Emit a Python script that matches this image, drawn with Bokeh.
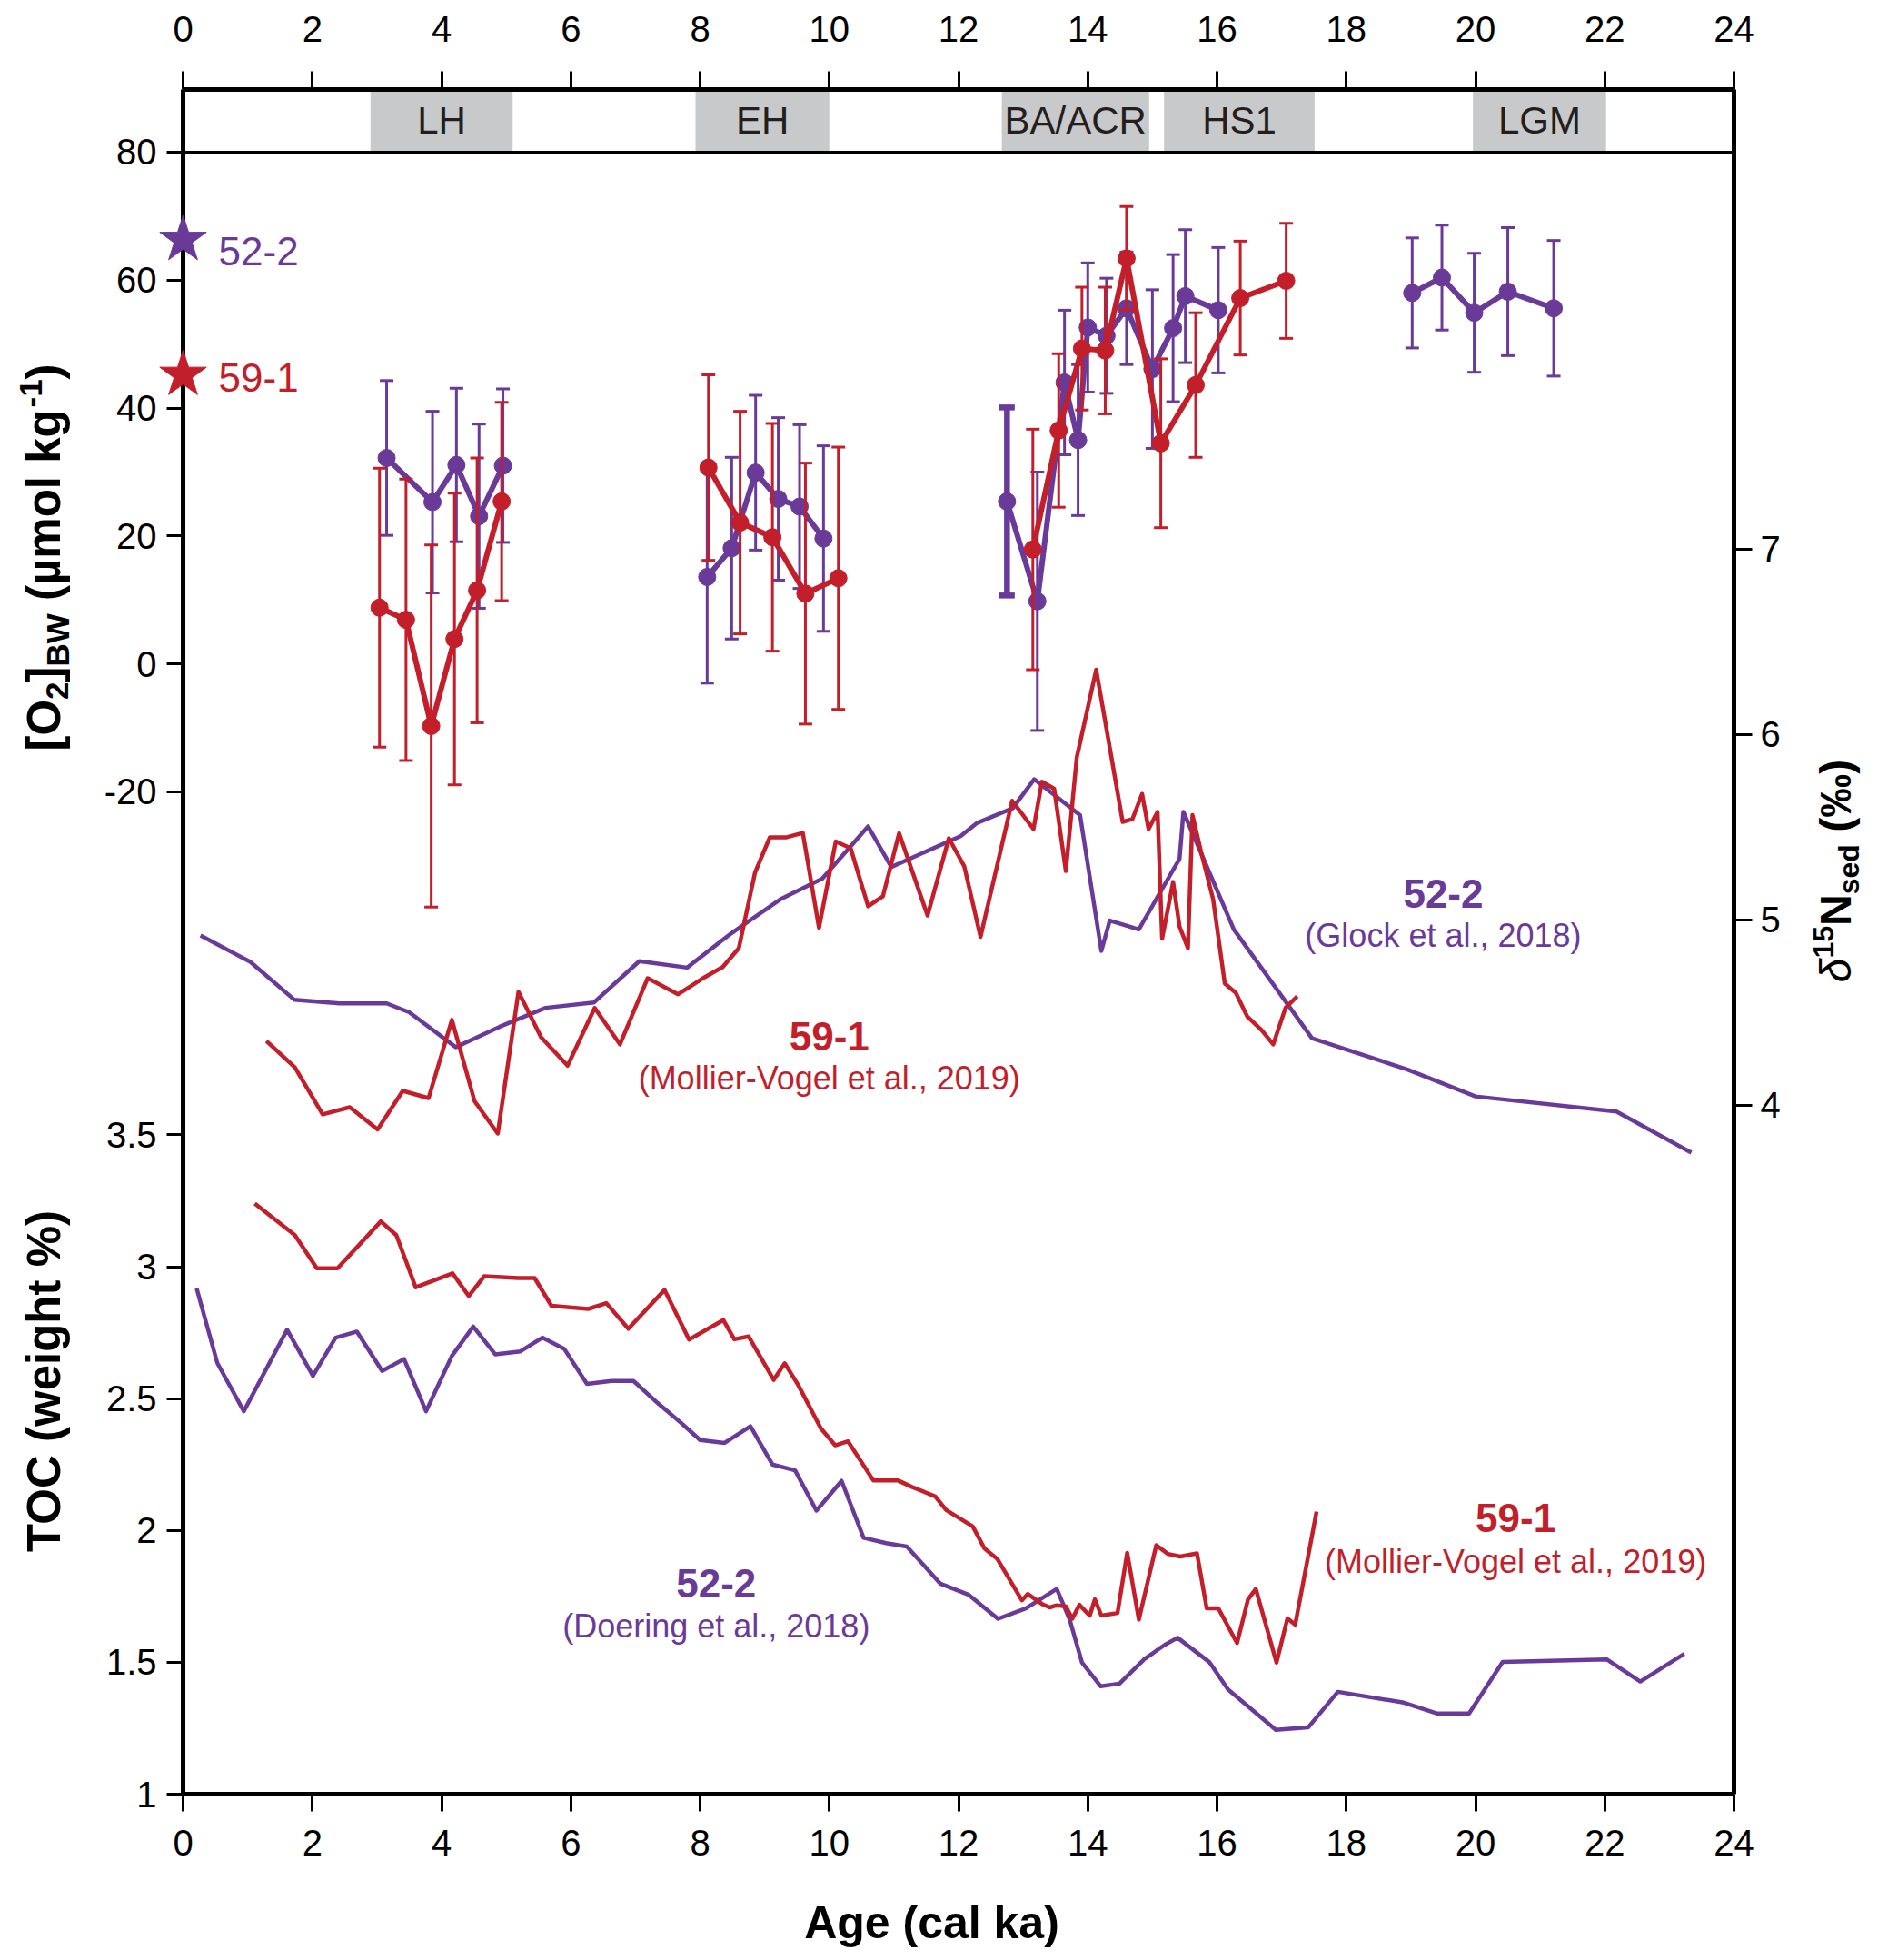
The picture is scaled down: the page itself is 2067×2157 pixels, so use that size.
import numpy as np
from bokeh.plotting import figure
from bokeh.models import Range1d, LinearAxis, FixedTicker, Span, Label, ColumnDataSource
from bokeh.core.properties import value
from bokeh.embed import file_html
from bokeh.resources import INLINE

# ---------------- values ----------------
age_ticks = list(range(0, 25, 2))
o2_ticks = [-20, 0, 20, 40, 60, 80]
toc_ticks = [1, 1.5, 2, 2.5, 3, 3.5]
d15n_ticks = [4, 5, 6, 7]

bands = ["LH", "EH", "BA/ACR", "HS1", "LGM"]
band_start = [2.90, 7.93, 12.67, 15.18, 19.96]
band_end = [5.10, 10.00, 14.95, 17.51, 22.02]

# modern bottom-water O2 (stars at 0 ka)
star_sites = ["52-2", "59-1"]
star_o2 = [66.3, 45.2]

# [O2]BW reconstructions, core 52-2
o2_522_age = [3.15, 3.86, 4.23, 4.58, 4.95, 8.11, 8.49, 8.86, 9.21, 9.54, 9.91,
              12.75, 13.22, 13.64, 13.85, 14.00, 14.29, 14.60, 15.00, 15.32, 15.51, 16.02,
              19.02, 19.48, 19.98, 20.50, 21.21]
o2_522_val = [32.2, 25.3, 31.1, 23.1, 31.0, 13.6, 18.1, 29.9, 25.8, 24.6, 19.6,
              25.4, 9.8, 44.0, 35.0, 52.6, 51.3, 55.6, 46.1, 52.5, 57.5, 55.3,
              58.0, 60.4, 54.9, 58.2, 55.6]
o2_522_err = [12.1, 14.2, 12.0, 14.4, 12.0, 16.6, 14.2, 12.1, 12.7, 12.8, 14.5,
              14.7, 20.2, 11.3, 11.8, 10.1, 9.0, 8.8, 12.4, 11.5, 10.4, 9.8,
              8.6, 8.2, 9.3, 10.0, 10.6]

# [O2]BW reconstructions, core 59-1
o2_591_age = [3.04, 3.45, 3.84, 4.20, 4.55, 4.93, 8.13, 8.62, 9.12, 9.63, 10.14,
              13.15, 13.55, 13.91, 14.27, 14.60, 15.13, 15.67, 16.36, 17.07]
o2_591_val = [8.8, 6.9, -9.7, 3.9, 11.5, 25.4, 30.7, 22.1, 19.8, 11.0, 13.4,
              17.9, 36.5, 49.3, 49.0, 63.4, 34.5, 43.6, 57.2, 59.9]
o2_591_err = [21.8, 22.0, 28.3, 22.8, 20.7, 15.5, 14.5, 17.4, 17.8, 20.4, 20.5,
              18.8, 12.0, 9.6, 9.9, 8.1, 13.2, 11.3, 8.9, 9.0]

# d15N sed, 52-2 (Glock et al., 2018)
d15n_522_age = [0.27, 1.04, 1.72, 2.42, 3.15, 3.50, 4.22, 4.90, 5.61, 6.36, 7.06, 7.80,
                8.48, 9.24, 9.89, 10.60, 10.96, 12.03, 12.28, 12.84, 13.17, 13.88, 14.21,
                14.34, 14.79, 15.42, 15.48, 16.26, 17.47, 18.95, 20.00, 22.18, 23.34]
d15n_522_val = [4.916, 4.774, 4.570, 4.550, 4.550, 4.502, 4.314, 4.424, 4.526, 4.555, 4.778,
                4.743, 4.927, 5.111, 5.223, 5.505, 5.286, 5.452, 5.522, 5.603, 5.759, 5.566,
                4.833, 4.997, 4.949, 5.330, 5.583, 4.949, 4.362, 4.193, 4.048, 3.967, 3.745]

# d15N sed, 59-1 (Mollier-Vogel et al., 2019)
d15n_591_age = [1.29, 1.73, 2.16, 2.58, 3.01, 3.40, 3.80, 4.16, 4.51, 4.87, 5.19, 5.54,
                5.95, 6.37, 6.76, 7.19, 7.66, 8.07, 8.35, 8.60, 8.85, 9.08, 9.34, 9.59,
                9.84, 10.10, 10.33, 10.60, 10.83, 11.08, 11.52, 11.85, 12.09, 12.34, 12.83,
                13.16, 13.29, 13.48, 13.66, 13.83, 14.13, 14.54, 14.69, 14.84, 14.94, 15.08,
                15.15, 15.32, 15.42, 15.55, 15.62, 15.76, 15.94, 16.12, 16.29, 16.47, 16.69,
                16.87, 17.06, 17.24]
d15n_591_val = [4.347, 4.205, 3.951, 3.990, 3.870, 4.078, 4.039, 4.461, 4.023, 3.848, 4.612,
                4.367, 4.214, 4.525, 4.329, 4.686, 4.599, 4.691, 4.746, 4.848, 5.255, 5.446,
                5.446, 5.470, 4.958, 5.424, 5.387, 5.074, 5.128, 5.468, 5.024, 5.441, 5.288,
                4.909, 5.643, 5.490, 5.746, 5.708, 5.264, 5.877, 6.350, 5.529, 5.544, 5.680,
                5.490, 5.583, 4.899, 5.205, 4.964, 4.848, 5.566, 5.358, 5.111, 4.658, 4.607,
                4.478, 4.406, 4.329, 4.526, 4.588]

# TOC, 52-2 (Doering et al., 2018)
toc_522_age = [0.21, 0.53, 0.94, 1.61, 2.01, 2.36, 2.69, 3.08, 3.42, 3.76, 4.16, 4.49,
               4.83, 5.22, 5.56, 5.90, 6.25, 6.63, 6.97, 7.34, 7.71, 8.00, 8.38, 8.78,
               9.12, 9.47, 9.80, 10.19, 10.53, 10.88, 11.20, 11.72, 12.15, 12.61, 13.04,
               13.52, 13.72, 13.91, 14.20, 14.49, 14.88, 15.19, 15.39, 15.88, 16.17, 16.91,
               17.41, 17.87, 18.89, 19.40, 19.90, 20.42, 22.03, 22.55, 23.23]
toc_522_val = [2.918, 2.635, 2.452, 2.761, 2.586, 2.731, 2.754, 2.605, 2.650, 2.452, 2.662,
               2.773, 2.668, 2.679, 2.731, 2.688, 2.556, 2.567, 2.567, 2.484, 2.407, 2.343,
               2.332, 2.395, 2.250, 2.228, 2.075, 2.188, 1.972, 1.952, 1.939, 1.798, 1.757,
               1.665, 1.704, 1.778, 1.662, 1.499, 1.409, 1.419, 1.513, 1.566, 1.593, 1.501,
               1.397, 1.244, 1.253, 1.388, 1.347, 1.306, 1.306, 1.501, 1.511, 1.427, 1.532]

# TOC, 59-1 (Mollier-Vogel et al., 2019)
toc_591_age = [1.11, 1.73, 2.07, 2.39, 3.06, 3.30, 3.60, 4.17, 4.42, 4.66, 5.19, 5.44,
               5.70, 6.27, 6.55, 6.89, 7.45, 7.83, 8.36, 8.53, 8.75, 9.14, 9.31, 9.52,
               9.87, 10.09, 10.29, 10.68, 11.06, 11.27, 11.64, 11.81, 12.22, 12.40, 12.60,
               12.98, 13.07, 13.30, 13.41, 13.52, 13.66, 13.76, 13.87, 14.03, 14.11, 14.21,
               14.46, 14.61, 14.79, 15.06, 15.24, 15.43, 15.69, 15.84, 16.02, 16.31, 16.48,
               16.60, 16.92, 17.09, 17.21, 17.54]
toc_591_val = [3.240, 3.120, 2.994, 2.994, 3.172, 3.120, 2.922, 2.975, 2.889, 2.964, 2.957,
               2.957, 2.852, 2.840, 2.862, 2.765, 2.912, 2.724, 2.798, 2.725, 2.736, 2.571,
               2.634, 2.551, 2.387, 2.323, 2.338, 2.190, 2.190, 2.166, 2.129, 2.077, 2.015,
               1.932, 1.892, 1.735, 1.759, 1.720, 1.708, 1.716, 1.712, 1.665, 1.718, 1.677,
               1.739, 1.677, 1.687, 1.915, 1.662, 1.944, 1.911, 1.901, 1.913, 1.705, 1.705,
               1.573, 1.739, 1.778, 1.499, 1.667, 1.643, 2.071]

# ---------------- styling / layout ----------------
PURPLE = "#6a3a99"
RED = "#c21f2b"
FONT = "Liberation Sans"

FRAME_W, FRAME_H = 1707, 1876
PAGE_LEFT, PAGE_TOP = 201, 98          # frame corner on the page
O2_LO, O2_HI = -176.68, 89.80
D_LO, D_HI = 0.284, 9.480
TOC_LO, TOC_HI = 1.0, 7.464


def age_at(px):
    return (px - PAGE_LEFT) * 24 / FRAME_W


def o2_at(py):
    return O2_HI - (py - PAGE_TOP) * (O2_HI - O2_LO) / FRAME_H


def toc_as_o2(t):
    return O2_LO + (t - TOC_LO) / (TOC_HI - TOC_LO) * (O2_HI - O2_LO)


def runs(age, gap=1.5):
    cut = [0] + [i for i in range(1, len(age)) if age[i] - age[i - 1] > gap] + [len(age)]
    return [slice(a, b) for a, b in zip(cut[:-1], cut[1:])]


p = figure(frame_width=FRAME_W, frame_height=FRAME_H,
           x_range=Range1d(0, 24), y_range=Range1d(O2_LO, O2_HI),
           min_border_left=PAGE_LEFT, min_border_right=151, min_border_top=PAGE_TOP,
           min_border_bottom=180,
           toolbar_location=None, tools="", output_backend="svg")
p.extra_y_ranges = {"d15n": Range1d(D_LO, D_HI), "toc": Range1d(TOC_LO, TOC_HI)}
p.xgrid.grid_line_color = None
p.ygrid.grid_line_color = None
p.outline_line_color = None
p.background_fill_color = "white"
p.border_fill_color = "white"


def style_axis(ax, tick_out, standoff):
    ax.axis_line_width = 5
    ax.axis_line_color = "black"
    ax.major_tick_line_width = 3
    ax.major_tick_out = tick_out
    ax.major_tick_in = 0
    ax.minor_tick_line_color = None
    ax.major_label_text_font = FONT
    ax.major_label_text_font_size = "40px"
    ax.major_label_text_color = "black"
    ax.major_label_standoff = standoff


# bottom axis
bottom = p.xaxis[0]
bottom.ticker = FixedTicker(ticks=age_ticks)
style_axis(bottom, 19, 20)

# top axis
top = LinearAxis(ticker=FixedTicker(ticks=age_ticks))
style_axis(top, 20, 33)
p.add_layout(top, "above")

# left axis: O2 ticks and TOC ticks share one spine
left = p.yaxis[0]
left_ticks = [float(v) for v in o2_ticks] + [round(toc_as_o2(t), 6) for t in toc_ticks]
left_labels = [str(v) for v in o2_ticks] + [f"{t:g}" for t in toc_ticks]
left.ticker = FixedTicker(ticks=left_ticks)
left.major_label_overrides = dict(zip(left_ticks, left_labels))
style_axis(left, 18, 11)

# right axis: d15N
right = LinearAxis(y_range_name="d15n", ticker=FixedTicker(ticks=d15n_ticks))
style_axis(right, 20, 9)
p.add_layout(right, "right")

# climate interval bands
band_src = ColumnDataSource(dict(left=band_start, right=band_end, name=bands,
                                 mid=[(a + b) / 2 for a, b in zip(band_start, band_end)]))
p.quad(left="left", right="right", bottom=80, top=O2_HI, source=band_src,
       fill_color="#c8c9ca", line_color=None)
p.text(x="mid", y=(80 + O2_HI) / 2, text="name", source=band_src,
       text_font=value(FONT), text_font_size="42px", text_color="#231f20",
       text_align="center", text_baseline="middle")
p.add_layout(Span(location=80, dimension="width", line_color="black", line_width=3))

# d15N lines
p.line(d15n_522_age, d15n_522_val, y_range_name="d15n", line_color=PURPLE, line_width=4.5,
       line_join="round")
p.line(d15n_591_age, d15n_591_val, y_range_name="d15n", line_color=RED, line_width=4.5,
       line_join="round")

# TOC lines
p.line(toc_522_age, toc_522_val, y_range_name="toc", line_color=PURPLE, line_width=4.5,
       line_join="round")
p.line(toc_591_age, toc_591_val, y_range_name="toc", line_color=RED, line_width=4.5,
       line_join="round")


def o2_series(age, val, err, color, thick=None):
    age = np.array(age)
    val = np.array(val)
    err = np.array(err)
    lo, hi = val - err, val + err
    w = np.full(len(age), 3.0)
    cap = np.full(len(age), 15.0)
    if thick is not None:
        w[thick] = 6.5
        cap[thick] = 17.0
    src = ColumnDataSource(dict(x=age, lo=lo, hi=hi, w=w, cap=cap))
    p.segment(x0="x", y0="lo", x1="x", y1="hi", line_width="w", line_color=color, source=src)
    for end in ("lo", "hi"):
        p.scatter(x="x", y=end, marker="dash", size="cap", line_width="w",
                  line_color=color, source=src)
    for s in runs(list(age)):
        p.line(age[s], val[s], line_color=color, line_width=6, line_join="round")
    p.scatter(age, val, marker="circle", size=19, fill_color=color, line_color=color)


o2_series(o2_522_age, o2_522_val, o2_522_err, PURPLE, thick=11)
o2_series(o2_591_age, o2_591_val, o2_591_err, RED)

# stars for modern values (drawn above the spine, not clipped) + labels
p.scatter(x=[0, 0], y=star_o2, marker="star", size=54, fill_color=[PURPLE, RED],
          line_color=[PURPLE, RED], level="overlay")
for site, py, c in zip(star_sites, [276, 415], [PURPLE, RED]):
    p.add_layout(Label(x=0.55, y=o2_at(py), text=site, text_font=FONT, text_font_size="44px",
                       text_color=c, text_align="left", text_baseline="middle"))


def label(x, y, rng, text, color, size, bold):
    p.add_layout(Label(x=x, y=y, y_range_name=rng, text=text, text_font=FONT,
                       text_font_size=f"{size}px", text_font_style="bold" if bold else "normal",
                       text_color=color, text_align="center", text_baseline="middle"))


label(19.50, 5.144, "d15n", "52-2", PURPLE, 44, True)
label(19.50, 4.914, "d15n", "(Glock et al., 2018)", PURPLE, 36, False)
label(10.00, 4.372, "d15n", "59-1", RED, 44, True)
label(10.00, 4.147, "d15n", "(Mollier-Vogel et al., 2019)", RED, 36, False)
label(8.25, 1.799, "toc", "52-2", PURPLE, 44, True)
label(8.25, 1.637, "toc", "(Doering et al., 2018)", PURPLE, 36, False)
label(20.62, 2.048, "toc", "59-1", RED, 44, True)
label(20.62, 1.882, "toc", "(Mollier-Vogel et al., 2019)", RED, 36, False)

# axis titles built from pieces (sub/superscripts), drawn as overlay text
BOLD_W = {'[': 333, 'O': 778, ']': 333, 'B': 722, 'W': 944, ' ': 278, '(': 333, 'µ': 611,
          'm': 889, 'o': 611, 'l': 278, 'k': 556, 'g': 611, '-': 333, '1': 556, ')': 333,
          '2': 556, '5': 556, 'N': 722, 's': 556, 'e': 556, 'd': 611, '‰': 1000, 'T': 611,
          'C': 722, 'w': 778, 'i': 278, 'h': 611, 't': 333, '%': 889}


def text_w(text, size):
    return sum(BOLD_W.get(ch, 556) for ch in text) * size / 1000.0


def rotated_title(pieces, mid_px, center_py):
    # mid_px: horizontal centre of the main-size glyphs; shifts move sub/superscripts
    main = pieces[0][1]
    base = mid_px + 0.35 * main
    total = sum(text_w(t, s) for t, s, _, _ in pieces)
    py = center_py + total / 2
    for text, size, shift, style in pieces:
        body = text.lstrip()
        start = py - text_w(text[:len(text) - len(body)], size)   # svg drops leading spaces
        p.text(x=[age_at(base + shift - 0.35 * size)], y=[o2_at(start)], text=[body],
               angle=np.pi / 2, text_font=value(FONT), text_font_size=f"{size}px",
               text_font_style=style, text_color="black", text_align="left",
               text_baseline="middle", level="overlay")
        py -= text_w(text, size)


rotated_title([("[O", 51, 0, "bold"), ("2", 35, 9, "bold"), ("]", 51, 0, "bold"),
               ("BW", 35, 9, "bold"), (" (µmol kg", 51, 0, "bold"), ("-1", 35, -20, "bold"),
               (")", 51, 0, "bold")], 48, 613)
rotated_title([("TOC (weight %)", 51, 0, "bold")], 48, 1519)
rotated_title([("δ", 48, 0, "italic"), ("15", 32, -19, "bold"), ("N", 48, 0, "bold"),
               ("sed", 32, 9, "bold"), (" (‰)", 48, 0, "bold")], 2020, 958)

# x-axis title
p.text(x=[age_at(1025)], y=[o2_at(2115)], text=["Age (cal ka)"], text_font=value(FONT),
       text_font_size="50px", text_font_style="bold", text_color="black",
       text_align="center", text_baseline="middle", level="overlay")

open("out.html", "w").write(file_html(p, INLINE))
